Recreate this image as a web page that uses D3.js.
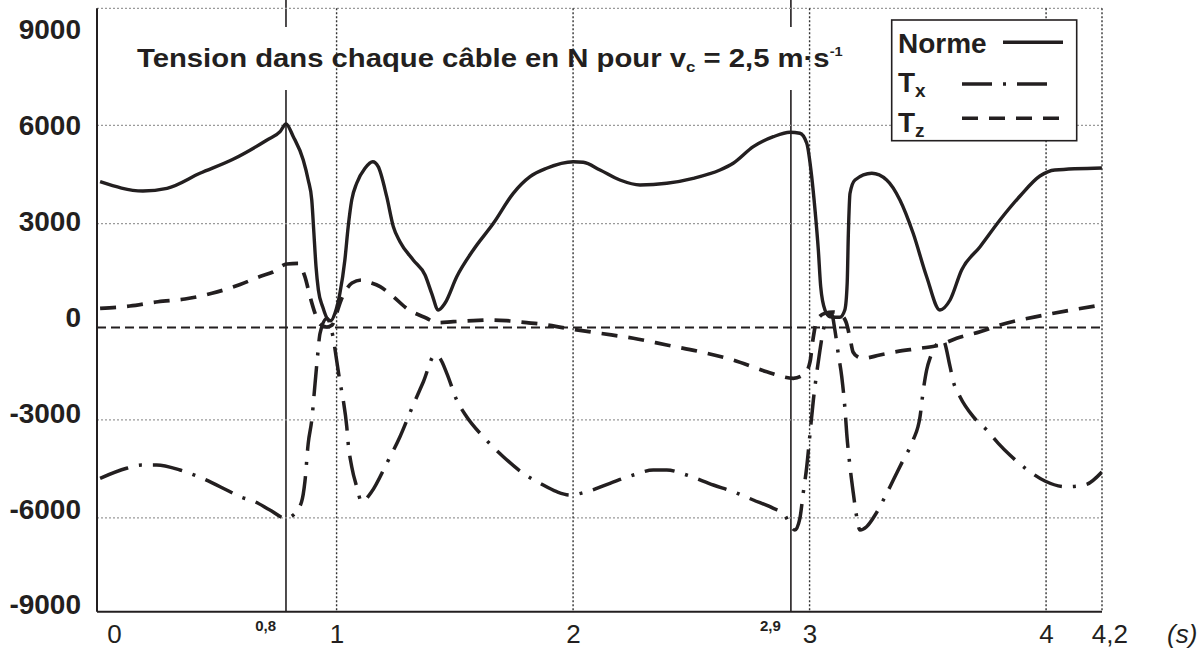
<!DOCTYPE html>
<html><head><meta charset="utf-8">
<script src="https://cdn.jsdelivr.net/npm/d3@7"></script>
<style>body{margin:0;background:#fff}svg{display:block}</style>
</head><body>
<svg id="chart" width="1204" height="651"></svg>
<script>
// ---------------- DATA ----------------
const seriesNames = ["Norme", "Tx", "Tz"];
const normeData = [
 [0,4280],[0.181,3996],[0.283,4078],[0.422,4537],[0.562,4965],[0.706,5555],[0.761,5809],[0.786,6044],
 [0.817,5656],[0.859,4943],[0.880,4332],[0.895,3721],[0.904,2712],[0.913,1681],[0.923,969],[0.941,459],
 [0.965,52],[0.976,31],[0.993,257],[1.014,868],[1.035,1886],[1.049,2904],[1.064,3721],[1.085,4231],
 [1.120,4690],[1.153,4891],[1.176,4739],[1.212,3821],[1.240,2904],[1.268,2446],[1.324,1886],[1.374,1428],
 [1.402,868],[1.430,358],[1.458,563],[1.508,1376],[1.578,2192],[1.663,3008],[1.747,3925],[1.818,4433],
 [1.888,4690],[2.001,4891],[2.043,4873],[2.114,4638],[2.198,4332],[2.283,4179],[2.396,4231],[2.508,4384],
 [2.621,4638],[2.677,4843],[2.762,5350],[2.847,5656],[2.917,5790],[2.959,5760],[2.988,5454],[3.009,4433],
 [3.023,3415],[3.037,2192],[3.047,1070],[3.065,358],[3.086,153],[3.128,135],[3.149,358],[3.159,1174],
 [3.164,2703],[3.171,3925],[3.192,4332],[3.263,4537],[3.326,4332],[3.382,3721],[3.438,2703],[3.495,1376],
 [3.551,358],[3.594,663],[3.643,1581],[3.721,2293],[3.805,3109],[3.890,3843],[3.974,4454],[4.037,4638],[4.236,4700]
];
const txData = [
 [0,-4788],[0.112,-4482],[0.176,-4381],[0.239,-4381],[0.338,-4534],[0.422,-4757],[0.535,-5145],[0.592,-5350],
 [0.655,-5503],[0.718,-5757],[0.786,-6011],[0.817,-5910],[0.852,-5503],[0.866,-4892],[0.880,-3718],[0.895,-3005],
 [0.909,-1886],[0.918,-1171],[0.930,-355],[0.959,100],[0.986,-507],[1.000,-1171],[1.014,-1834],[1.028,-2394],
 [1.043,-3210],[1.049,-3718],[1.064,-4433],[1.085,-5044],[1.106,-5503],[1.148,-5197],[1.212,-4329],[1.268,-3516],
 [1.318,-2648],[1.367,-1834],[1.416,-1018],[1.437,-1120],[1.466,-1578],[1.508,-2394],[1.550,-2904],[1.620,-3516],
 [1.705,-4127],[1.789,-4635],[1.860,-4940],[1.931,-5197],[1.987,-5298],[2.058,-5197],[2.156,-4940],[2.255,-4687],
 [2.339,-4534],[2.396,-4534],[2.480,-4687],[2.593,-4992],[2.677,-5197],[2.762,-5451],[2.847,-5705],[2.889,-5858],
 [2.938,-6368],[2.959,-6011],[2.973,-5246],[2.988,-4433],[3.002,-3412],[3.016,-2394],[3.030,-1578],[3.044,-865],
 [3.058,-254],[3.079,205],[3.093,240],[3.107,-254],[3.121,-966],[3.136,-1681],[3.150,-2700],[3.157,-3412],
 [3.171,-4433],[3.185,-5246],[3.199,-5961],[3.213,-6368],[3.241,-6267],[3.277,-5910],[3.312,-5451],[3.354,-4840],
 [3.396,-4228],[3.438,-3617],[3.467,-2904],[3.481,-2088],[3.495,-1477],[3.509,-1120],[3.564,-560],[3.594,-1376],
 [3.608,-1834],[3.636,-2293],[3.692,-2904],[3.749,-3311],[3.798,-3718],[3.847,-4077],[3.911,-4473],[3.995,-4870],
 [4.080,-5044],[4.164,-4990],[4.236,-4595]
];
const tzData = [
 [0,410],[0.126,480],[0.245,611],[0.359,694],[0.473,868],[0.592,1137],[0.676,1382],[0.731,1519],[0.790,1764],
 [0.838,1780],[0.866,1376],[0.888,764],[0.909,257],[0.930,-70],[0.959,-162],[0.981,-100],[1.000,257],[1.019,663],
 [1.040,969],[1.065,1183],[1.107,1275],[1.129,1223],[1.184,1070],[1.240,764],[1.296,410],[1.381,104],[1.423,-30],
 [1.493,0],[1.578,31],[1.649,52],[1.719,31],[1.804,-30],[1.860,-70],[1.973,-202],[2.114,-355],[2.255,-507],
 [2.396,-712],[2.537,-917],[2.677,-1171],[2.819,-1529],[2.931,-1730],[2.981,-1578],[3.002,-1223],[3.014,-560],
 [3.031,52],[3.065,257],[3.099,297],[3.128,235],[3.154,-10],[3.171,-500],[3.184,-930],[3.205,-1080],[3.227,-1120],
 [3.297,-1018],[3.368,-917],[3.467,-813],[3.551,-712],[3.622,-507],[3.721,-306],[3.805,-101],[3.995,205],[4.236,511]
];
const yTickValues = [9000, 6000, 3000, 0, -3000, -6000, -9000];
const yGridValues = [6000, 3000, -3000, -6000];
const xGridValues = [1, 2, 3, 4];
const xTickValues = [0, 1, 2, 3, 4, 4.2];
const xTickLabels = ["0", "1", "2", "3", "4", "4,2"];
const markerTimes = [0.786, 2.921];
const markerLabels = ["0,8", "2,9"];
const zeroLineValue = -180;
const xUnit = "(s)";
const titleMain = "Tension dans chaque câble en N pour v";

// ---------------- LAYOUT ----------------
const ink = "#231f20";
const L = 97, R = 1102, T = 8.3, B = 611.7;
const svg = d3.select("#chart");
const font = "'Liberation Sans', Arial, Helvetica, sans-serif";

const x = d3.scaleLinear().domain([0, 4.25]).range([100.1, 1105.2]);
const y = d3.scaleLinear().domain([-9000, 9000]).range([616.1, 27.3]);
const yLab = d3.scaleLinear().domain([-9000, 9000]).range([605, 30]);

// marker (event) lines
svg.append("g").selectAll("line").data(markerTimes).join("line")
  .attr("x1", d => x(d)).attr("x2", d => x(d)).attr("y1", 0).attr("y2", B)
  .attr("stroke", ink).attr("stroke-width", 1.6);
// white band behind the title
svg.append("rect").attr("x", 130).attr("y", 27).attr("width", 720).attr("height", 63).attr("fill", "#fff");

// horizontal grid
svg.append("g").selectAll("line").data(yGridValues).join("line")
  .attr("x1", L).attr("x2", R).attr("y1", d => y(d)).attr("y2", d => y(d))
  .attr("stroke", "#9a9a9a").attr("stroke-width", 1.2).attr("stroke-dasharray", "2,2");
svg.append("line").attr("x1", L).attr("x2", R).attr("y1", T).attr("y2", T)
  .attr("stroke", "#9a9a9a").attr("stroke-width", 1.2).attr("stroke-dasharray", "2,2");
// vertical grid
svg.append("g").selectAll("line").data(xGridValues).join("line")
  .attr("x1", d => x(d)).attr("x2", d => x(d)).attr("y1", T).attr("y2", B)
  .attr("stroke", "#333").attr("stroke-width", 1.4).attr("stroke-dasharray", "2,2");
svg.append("line").attr("x1", R).attr("x2", R).attr("y1", T).attr("y2", B)
  .attr("stroke", "#333").attr("stroke-width", 1.4).attr("stroke-dasharray", "2,2");

// zero reference dashed line
svg.append("line").attr("x1", L).attr("x2", R).attr("y1", y(zeroLineValue)).attr("y2", y(zeroLineValue))
  .attr("stroke", ink).attr("stroke-width", 2).attr("stroke-dasharray", "9,5");

// axes lines
svg.append("line").attr("x1", L).attr("x2", L).attr("y1", T).attr("y2", B).attr("stroke", ink).attr("stroke-width", 2);
svg.append("line").attr("x1", L).attr("x2", R).attr("y1", B).attr("y2", B).attr("stroke", ink).attr("stroke-width", 2);

// curves
svg.append("clipPath").attr("id", "plot").append("rect").attr("x", L).attr("y", T).attr("width", R - L).attr("height", B - T);
const line = d3.line().x(d => x(d[0])).y(d => y(d[1])).curve(d3.curveMonotoneX);
const styles = {
  Norme: { data: normeData, dash: null, w: 3.4 },
  Tx: { data: txData, dash: "30,11,3,11", w: 3.5 },
  Tz: { data: tzData, dash: "16,11", w: 3.7 }
};
const gCurves = svg.append("g").attr("clip-path", "url(#plot)");
seriesNames.forEach(n => {
  const s = styles[n];
  gCurves.append("path").datum(s.data).attr("d", line).attr("fill", "none")
    .attr("stroke", ink).attr("stroke-width", s.w).attr("stroke-linejoin", "round")
    .attr("stroke-dasharray", s.dash);
});

// y-axis labels
const yAxis = svg.append("g").attr("transform", `translate(81,0)`)
  .call(d3.axisLeft(yLab).tickValues(yTickValues).tickSize(0).tickPadding(0).tickFormat(d => String(d)));
yAxis.select(".domain").remove();
yAxis.selectAll("text").attr("font-family", font).attr("font-weight", "bold").attr("font-size", 28).attr("fill", ink);

// x-axis labels
const xAxis = svg.append("g").attr("transform", `translate(0,${B})`)
  .call(d3.axisBottom(x).tickValues(xTickValues).tickSize(0).tickPadding(13).tickFormat((d, i) => xTickLabels[i]));
xAxis.select(".domain").remove();
xAxis.selectAll("text").attr("font-family", font).attr("font-size", 26).attr("fill", ink)
  .attr("dx", (d, i) => i === 0 ? 14 : (i === xTickValues.length - 1 ? 16 : 0));
svg.append("text").attr("x", 1167).attr("y", 643).attr("font-family", font).attr("font-style", "italic")
  .attr("font-size", 26).attr("fill", ink).text(xUnit);

// marker labels
svg.append("g").selectAll("text").data(markerTimes).join("text")
  .attr("x", d => x(d) - 10).attr("y", 631).attr("text-anchor", "end")
  .attr("font-family", font).attr("font-weight", "bold").attr("font-size", 15).attr("fill", ink)
  .text((d, i) => markerLabels[i]);

// title
const title = svg.append("text").attr("font-family", font).attr("font-weight", "bold")
  .attr("font-size", 26).attr("fill", ink);
title.append("tspan").text(titleMain);
title.append("tspan").attr("font-size", 15).attr("dy", 5).text("c");
title.append("tspan").attr("dy", -5).text(" = 2,5 m·s");
title.append("tspan").attr("font-size", 13).attr("dy", -11).text("-1");
const bb = title.node().getBBox();
title.attr("transform", `translate(137,67) scale(${706 / bb.width},1)`);

// legend
const lg = svg.append("g");
lg.append("rect").attr("x", 891.7).attr("y", 20).attr("width", 185).attr("height", 120.7)
  .attr("fill", "#fff").attr("stroke", ink).attr("stroke-width", 1.6);
const legendRows = [
  { name: "Norme", sub: null, ty: 53, ly: 42.3, x1: 1003, x2: 1063 },
  { name: "T", sub: "x", ty: 92, ly: 84, x1: 962, x2: 1054 },
  { name: "T", sub: "z", ty: 131.5, ly: 118.3, x1: 962, x2: 1063 }
];
legendRows.forEach((r, i) => {
  const t = lg.append("text").attr("x", 898).attr("y", r.ty).attr("font-family", font)
    .attr("font-weight", "bold").attr("font-size", 28).attr("fill", ink);
  t.append("tspan").text(r.name);
  if (r.sub) t.append("tspan").attr("font-size", 19).attr("dy", 5).text(r.sub);
  const s = styles[seriesNames[i]];
  lg.append("line").attr("x1", r.x1).attr("x2", r.x2).attr("y1", r.ly).attr("y2", r.ly)
    .attr("stroke", ink).attr("stroke-width", 3.4).attr("stroke-dasharray", s.dash);
});
</script>
</body></html>
